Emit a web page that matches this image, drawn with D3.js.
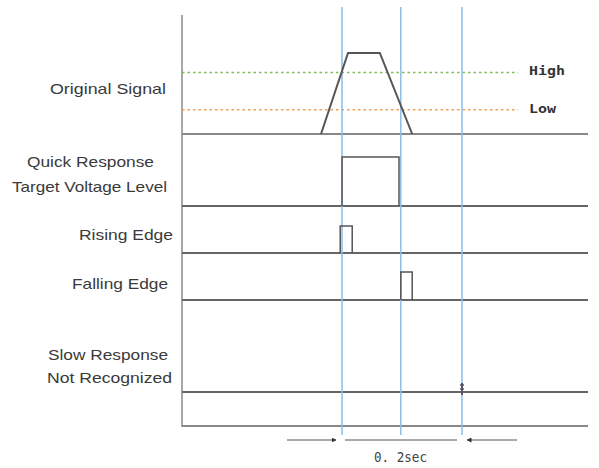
<!DOCTYPE html>
<html>
<head>
<meta charset="utf-8">
<script src="https://cdnjs.cloudflare.com/ajax/libs/d3/7.8.5/d3.min.js"></script>
<style>
  body { margin: 0; background: #fff; }
  .lbl { font-family: "Liberation Sans", Arial, sans-serif; font-size: 14.5px; fill: #3a3a3a; }
  .mono { font-family: "DejaVu Sans Mono", monospace; font-size: 13px; font-weight: bold; fill: #333; }
  .span { font-family: "DejaVu Sans Mono", monospace; font-size: 14px; fill: #444; }
</style>
</head>
<body>
<div id="chart"></div>
<script>
// time in ms, first marker = 0
var markers = [0, 98, 200];
var origT = [-35, 10, 63, 117];        // trapezoid corners (start, top-left, top-right, end)
var origV = [0, 5, 5, 0];              // volts
var thresholds = [{name: "High", v: 3.8, color: "#7cbf5a"}, {name: "Low", v: 1.5, color: "#f0a050"}];
var quickPulse = [0, 95];
var risePulse = [-3, 17];
var fallPulse = [98, 117];
var slowMark = 200;
var rowLabels = [
  ["Original Signal"],
  ["Quick Response", "Target Voltage Level"],
  ["Rising Edge"],
  ["Falling Edge"],
  ["Slow Response", "Not Recognized"]
];
var spanLabel = "0. 2sec";

var width = 599, height = 468;
var svg = d3.select("#chart").append("svg").attr("width", width).attr("height", height);

var x = d3.scaleLinear().domain([-266.7, 410]).range([182, 588]);
var yOrig = d3.scaleLinear().domain([0, 5]).range([134, 53]);
// digital rows: baseline / pulse top
var rows = [
  {base: 206, top: 157, pulse: quickPulse},
  {base: 253, top: 226, pulse: risePulse},
  {base: 300, top: 272, pulse: fallPulse},
  {base: 392, top: 392, pulse: null}
];
var gray = "#666";

// axis frame
svg.append("line").attr("x1", 182).attr("x2", 182).attr("y1", 15).attr("y2", 427)
  .attr("stroke", "#888").attr("stroke-width", 1.5);
svg.append("line").attr("x1", 182).attr("x2", x.range()[1]).attr("y1", 426).attr("y2", 426)
  .attr("stroke", "#888").attr("stroke-width", 2);

// threshold lines
thresholds.forEach(function(d) {
  svg.append("line").attr("x1", 182).attr("x2", 518)
    .attr("y1", yOrig(d.v)).attr("y2", yOrig(d.v))
    .attr("stroke", d.color).attr("stroke-width", 1.5).attr("stroke-dasharray", "2.5,3");
  svg.append("text").attr("class", "mono").attr("x", 529).attr("y", yOrig(d.v) + 3)
    .attr("textLength", d.name.length * 9).attr("lengthAdjust", "spacingAndGlyphs").text(d.name);
});

// baselines
svg.append("line").attr("x1", 182).attr("x2", 588).attr("y1", yOrig(0)).attr("y2", yOrig(0))
  .attr("stroke", "#888").attr("stroke-width", 2);
rows.forEach(function(r) {
  svg.append("line").attr("x1", 182).attr("x2", 588).attr("y1", r.base).attr("y2", r.base)
    .attr("stroke", gray).attr("stroke-width", 2);
});

// marker lines
svg.selectAll(".mk").data(markers).enter().append("line")
  .attr("x1", function(d) { return x(d); }).attr("x2", function(d) { return x(d); })
  .attr("y1", 7).attr("y2", 435)
  .attr("stroke", "#8cbde6").attr("stroke-width", 1.5);

// original signal
var line = d3.line().x(function(d) { return x(d[0]); }).y(function(d) { return yOrig(d[1]); });
svg.append("path").datum(d3.zip(origT, origV)).attr("d", line)
  .attr("fill", "none").attr("stroke", "#555").attr("stroke-width", 2);

// pulses
rows.forEach(function(r) {
  if (!r.pulse) return;
  var pts = [[x(r.pulse[0]), r.base], [x(r.pulse[0]), r.top], [x(r.pulse[1]), r.top], [x(r.pulse[1]), r.base]];
  svg.append("path").attr("d", d3.line()(pts))
    .attr("fill", "none").attr("stroke", "#555").attr("stroke-width", 1.5);
});

// slow response glitch mark
var sx = x(slowMark), sb = rows[3].base;
svg.append("line").attr("x1", sx).attr("x2", sx).attr("y1", sb - 9).attr("y2", sb + 3)
  .attr("stroke", "#556").attr("stroke-width", 2);
svg.append("line").attr("x1", sx - 2).attr("x2", sx + 2).attr("y1", sb - 7).attr("y2", sb - 7)
  .attr("stroke", "#556").attr("stroke-width", 1.5);
svg.append("line").attr("x1", sx - 2).attr("x2", sx + 2).attr("y1", sb - 3).attr("y2", sb - 3)
  .attr("stroke", "#556").attr("stroke-width", 1.5);

// row labels: right edge, baseline and stretched width of each line
var labelPos = [
  [{x: 166, y: 94, w: 116}],
  [{x: 154, y: 167, w: 127}, {x: 167, y: 192, w: 155}],
  [{x: 173, y: 240, w: 94}],
  [{x: 168, y: 289, w: 96}],
  [{x: 168, y: 360, w: 120}, {x: 172, y: 383, w: 125}]
];
rowLabels.forEach(function(lines, i) {
  lines.forEach(function(s, j) {
    var p = labelPos[i][j];
    svg.append("text").attr("class", "lbl")
      .attr("x", p.x - p.w).attr("y", p.y)
      .attr("textLength", p.w).attr("lengthAdjust", "spacingAndGlyphs")
      .text(s);
  });
});

// 0.2 sec span annotation
var ay = 440;
var defs = svg.append("defs");
defs.append("marker").attr("id", "ah").attr("viewBox", "0 0 10 10").attr("refX", 9).attr("refY", 5)
  .attr("markerWidth", 5).attr("markerHeight", 5).attr("orient", "auto-start-reverse")
  .append("path").attr("d", "M0,0L10,5L0,10z").attr("fill", "#333");
svg.append("line").attr("x1", x(markers[0]) - 55).attr("x2", x(markers[0]) - 6).attr("y1", ay).attr("y2", ay)
  .attr("stroke", "#555").attr("stroke-width", 1).attr("marker-end", "url(#ah)");
svg.append("line").attr("x1", x(markers[0]) + 3).attr("x2", x(markers[2]) - 5).attr("y1", ay).attr("y2", ay)
  .attr("stroke", "#555").attr("stroke-width", 1);
svg.append("line").attr("x1", x(markers[2]) + 55).attr("x2", x(markers[2]) + 5).attr("y1", ay).attr("y2", ay)
  .attr("stroke", "#555").attr("stroke-width", 1).attr("marker-end", "url(#ah)");
svg.append("text").attr("class", "span")
  .attr("x", 374).attr("y", 462).attr("textLength", 53).attr("lengthAdjust", "spacingAndGlyphs")
  .text(spanLabel);
</script>
</body>
</html>
